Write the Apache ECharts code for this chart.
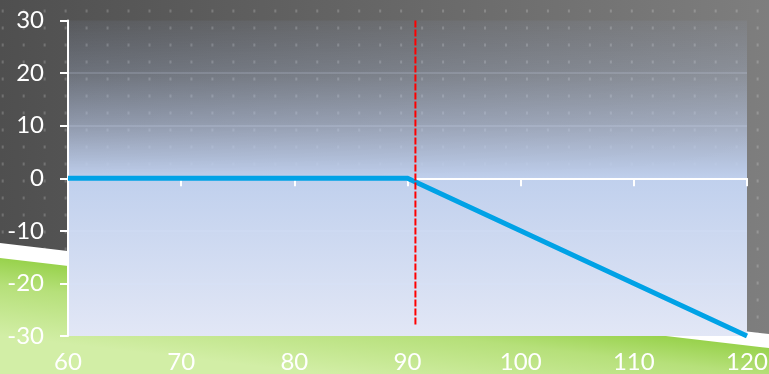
<!DOCTYPE html>
<html>
<head>
<meta charset="utf-8">
<script src="https://cdn.jsdelivr.net/npm/echarts@6/dist/echarts.min.js"></script>
<style>
  html, body { margin: 0; padding: 0; background: #5a5a5a; }
  #stage { position: relative; width: 769px; height: 374px; overflow: hidden; }
  #backdrop { position: absolute; left: 0; top: 0; }
  #chart { position: absolute; left: 0; top: 0; width: 769px; height: 374px; }
</style>
</head>
<body>
<div id="stage">
  <!-- slide backdrop: grey gradient with dot texture, white swoosh and green ground -->
  <svg id="backdrop" width="769" height="374" xmlns="http://www.w3.org/2000/svg">
    <defs>
      <linearGradient id="greyFill" x1="0" y1="0" x2="1" y2="0">
        <stop offset="0" stop-color="#4f4f4f"/>
        <stop offset="1" stop-color="#7e7e7e"/>
      </linearGradient>
      <pattern id="dots" width="20.97" height="17" patternUnits="userSpaceOnUse" x="1.7" y="9.5">
        <rect x="0" y="0" width="2" height="3" fill="rgba(255,255,255,0.19)"/>
      </pattern>
      <linearGradient id="greenFill" gradientUnits="userSpaceOnUse" x1="0" y1="258" x2="-9" y2="335">
        <stop offset="0" stop-color="#98d24c"/>
        <stop offset="0.35" stop-color="#b6e07a"/>
        <stop offset="1" stop-color="#d2eea6"/>
      </linearGradient>
    </defs>
    <rect x="0" y="0" width="769" height="374" fill="url(#greyFill)"/>
    <rect x="0" y="0" width="769" height="374" fill="url(#dots)"/>
    <polygon points="0,243 769,334 769,374 0,374" fill="#ffffff"/>
    <polygon points="0,258 769,348 769,374 0,374" fill="url(#greenFill)"/>
  </svg>
  <div id="chart"></div>
</div>
<script>
// Payoff profile: flat until the strike, then losing one for one
const underlyingPrice = [60, 90, 120];
const profitLoss = [0, 0, -30];

// Vertical marker near the strike
const markerPrice = [90.7, 90.7];
const markerLevel = [30, -28];

// Axis tick values
const xTicks = [60, 70, 80, 90, 100, 110, 120];
const yTicks = [-30, -20, -10, 0, 10, 20, 30];

const xMin = xTicks[0], xMax = xTicks[xTicks.length - 1], xStep = xTicks[1] - xTicks[0];
const yMin = yTicks[0], yMax = yTicks[yTicks.length - 1], yStep = yTicks[1] - yTicks[0];

const labelFont = { color: '#ffffff', fontSize: 24, fontFamily: 'Lato, "Open Sans", sans-serif' };

const chart = echarts.init(document.getElementById('chart'), null, { renderer: 'canvas' });

chart.setOption({
  backgroundColor: 'transparent',
  animation: false,
  grid: {
    left: 68, right: 22, top: 20.5, bottom: 38,
    outerBoundsMode: 'none',
    containLabel: false,
    show: true,
    borderWidth: 0,
    backgroundColor: {
      type: 'linear', x: 0, y: 0, x2: 0, y2: 1,
      colorStops: [
        { offset: 0, color: 'rgba(165,188,232,0.07)' },
        { offset: 0.17, color: 'rgba(182,200,234,0.27)' },
        { offset: 0.33, color: 'rgba(188,204,236,0.58)' },
        { offset: 0.47, color: 'rgba(190,206,236,0.93)' },
        { offset: 0.5, color: 'rgba(192,208,237,1)' },
        { offset: 1, color: 'rgba(226,231,246,1)' }
      ]
    }
  },
  xAxis: [
    {
      // labels along the bottom edge
      type: 'value', min: xMin, max: xMax, interval: xStep,
      position: 'bottom',
      axisLine: { show: false, onZero: false },
      axisTick: { show: false },
      splitLine: { show: false },
      axisLabel: Object.assign({ margin: 14 }, labelFont)
    },
    {
      // axis line and ticks running through zero
      type: 'value', min: xMin, max: xMax, interval: xStep,
      position: 'top',
      axisLine: { show: true, onZero: true, onZeroAxisIndex: 0, lineStyle: { color: '#ffffff', width: 2 } },
      axisTick: { show: true, inside: true, length: 8, lineStyle: { color: '#ffffff', width: 2 } },
      splitLine: { show: false },
      axisLabel: { show: false }
    }
  ],
  yAxis: {
    type: 'value', min: yMin, max: yMax, interval: yStep,
    axisLine: { show: true, onZero: false, lineStyle: { color: '#ffffff', width: 2 } },
    axisTick: { show: true, length: 8, lineStyle: { color: '#ffffff', width: 2 } },
    axisLabel: Object.assign({ margin: 24 }, labelFont),
    splitLine: {
      show: true,
      showMinLine: false,
      showMaxLine: false,
      lineStyle: { color: 'rgba(215,230,255,0.16)', width: 2 }
    }
  },
  series: [
    {
      type: 'line',
      xAxisIndex: 0,
      data: underlyingPrice.map((p, i) => [p, profitLoss[i]]),
      symbol: 'none',
      lineStyle: { color: '#00a2e6', width: 5, cap: 'butt', join: 'miter' },
      z: 3
    },
    {
      type: 'line',
      xAxisIndex: 0,
      data: markerPrice.map((p, i) => [p, markerLevel[i]]),
      symbol: 'none',
      lineStyle: { color: '#ff0000', width: 2, type: [7, 2] },
      z: 4
    }
  ]
});
</script>
</body>
</html>
